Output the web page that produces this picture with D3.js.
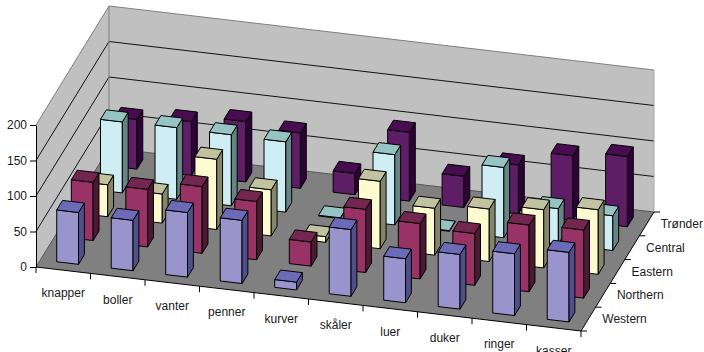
<!DOCTYPE html>
<html>
<head>
<meta charset="utf-8">
<script src="https://cdn.jsdelivr.net/npm/d3@7"></script>
<style>
  html, body { margin: 0; padding: 0; background: #fff; }
  svg { display: block; }
  text { font-family: "Liberation Sans", Arial, sans-serif; font-size: 12px; fill: #1a1a1a; }
</style>
</head>
<body>
<svg id="chart" width="704" height="352"></svg>
<script>
// Stock counts per product and region
const categories = ["knapper", "boller", "vanter", "penner", "kurver", "skåler", "luer", "duker", "ringer", "kasser"];
const regions = ["Western", "Northern", "Eastern", "Central", "Trønder"];
const western  = [73, 71, 91, 89, 11, 94, 62, 77, 87, 98];
const northern = [82, 81, 94, 82, 34, 89, 78, 73, 94, 96];
const eastern  = [45, 41, 99, 65, 8, 95, 66, 74, 82, 91];
const central  = [100, 101, 100, 99, 1, 99, 1, 99, 50, 49];
const tronder  = [70, 76, 85, 78, 30, 97, 44, 69, 91, 99];
const seriesValues = [western, northern, eastern, central, tronder];
const valueTicks = [0, 50, 100, 150, 200];

// Face fills per region: front, top, side
const faceColors = [
  ["#9994cc", "#6b6bb8", "#4f4f8a"],
  ["#993366", "#732650", "#4c1933"],
  ["#fffbd0", "#c2c2a0", "#85856b"],
  ["#cfeef4", "#96c4c4", "#668585"],
  ["#5e1e66", "#470d50", "#300038"]
];

// Oblique projection of the plot box onto the page
const origin = [36, 267];
const alongX = d3.scaleLinear().domain([0, categories.length]).range([0, 545]);
const alongXRise = d3.scaleLinear().domain([0, categories.length]).range([0, 64]);
const alongZ = d3.scaleLinear().domain([0, regions.length]).range([0, 73]);
const alongZRise = d3.scaleLinear().domain([0, regions.length]).range([0, -119]);
const heightScale = d3.scaleLinear().domain([0, 200]).range([0, -142]);

function project(cat, reg, value) {
  return [
    origin[0] + alongX(cat) + alongZ(reg),
    origin[1] + alongXRise(cat) + alongZRise(reg) + heightScale(value)
  ];
}

const svg = d3.select("#chart");
const polyPath = pts => "M" + pts.map(p => p.map(n => n.toFixed(2)).join(",")).join("L") + "Z";
const nCat = categories.length, nReg = regions.length;

// Walls and floor
svg.append("path")
  .attr("d", polyPath([project(0,0,0), project(0,0,200), project(0,nReg,200), project(0,nReg,0)]))
  .attr("fill", "#c0c0c0");
svg.append("path")
  .attr("d", polyPath([project(0,nReg,0), project(0,nReg,200), project(nCat,nReg,200), project(nCat,nReg,0)]))
  .attr("fill", "#c0c0c0");
svg.append("path")
  .attr("d", polyPath([project(0,0,0), project(nCat,0,0), project(nCat,nReg,0), project(0,nReg,0)]))
  .attr("fill", "#808080");

// Gridlines across both walls
const line = d3.line();
valueTicks.forEach(v => {
  const top = v === 200;
  svg.append("path")
    .attr("d", line([project(0,0,v), project(0,nReg,v), project(nCat,nReg,v)]))
    .attr("fill", "none")
    .attr("stroke", top ? "#808080" : (v === 0 ? "#555" : "#111"))
    .attr("stroke-width", 1);
});
svg.append("path")
  .attr("d", line([project(0,nReg,0), project(0,nReg,200)]))
  .attr("stroke", "#808080").attr("fill", "none");
svg.append("path")
  .attr("d", line([project(nCat,nReg,0), project(nCat,nReg,200)]))
  .attr("stroke", "#a8a8a8").attr("fill", "none");

// Bars, painted from the back row forwards
const gap = 0.3, span = 0.4;
const bars = svg.append("g").attr("stroke", "#000").attr("stroke-width", 1).attr("stroke-linejoin", "round");
d3.range(nReg - 1, -1, -1).forEach(r => {
  seriesValues[r].forEach((v, c) => {
    const x0 = c + gap, x1 = c + gap + span;
    const z0 = r + gap, z1 = r + gap + span;
    const [front, topFace, side] = faceColors[r];
    bars.append("path").attr("fill", front)
      .attr("d", polyPath([project(x0,z0,0), project(x1,z0,0), project(x1,z0,v), project(x0,z0,v)]));
    bars.append("path").attr("fill", side)
      .attr("d", polyPath([project(x1,z0,0), project(x1,z1,0), project(x1,z1,v), project(x1,z0,v)]));
    bars.append("path").attr("fill", topFace)
      .attr("d", polyPath([project(x0,z0,v), project(x1,z0,v), project(x1,z1,v), project(x0,z1,v)]));
  });
});

// Value axis on the front edge of the left wall
const valueAxis = d3.scaleLinear().domain([0, 200]).range([origin[1], origin[1] - 142]);
const yAxis = svg.append("g")
  .attr("transform", `translate(${origin[0]},0)`)
  .call(d3.axisLeft(valueAxis).tickValues(valueTicks).tickSize(6).tickPadding(3).tickSizeOuter(0));
yAxis.selectAll("line, path").attr("stroke", "#000");
yAxis.selectAll("text").style("font-family", null).style("font-size", "12px").attr("fill", "#1a1a1a");

// Front and right floor edges with their ticks
svg.append("path").attr("d", line([project(0,0,0), project(nCat,0,0), project(nCat,nReg,0)]))
  .attr("fill", "none").attr("stroke", "#000");
d3.range(nCat + 1).forEach(c => {
  const [x, y] = project(c, 0, 0);
  svg.append("line").attr("x1", x).attr("x2", x).attr("y1", y).attr("y2", y + 6).attr("stroke", "#000");
});
d3.range(nReg + 1).forEach(r => {
  const [x, y] = project(nCat, r, 0);
  svg.append("line").attr("x1", x).attr("x2", x + 6).attr("y1", y).attr("y2", y).attr("stroke", "#000");
});

// Category and region labels
categories.forEach((name, c) => {
  const [x, y] = project(c + 0.5, 0, 0);
  svg.append("text").attr("x", x).attr("y", y + 27).attr("text-anchor", "middle").text(name);
});
regions.forEach((name, r) => {
  const [x, y] = project(nCat, r + 0.5, 0);
  svg.append("text").attr("x", x + 14).attr("y", y + 4).text(name);
});
</script>
</body>
</html>
